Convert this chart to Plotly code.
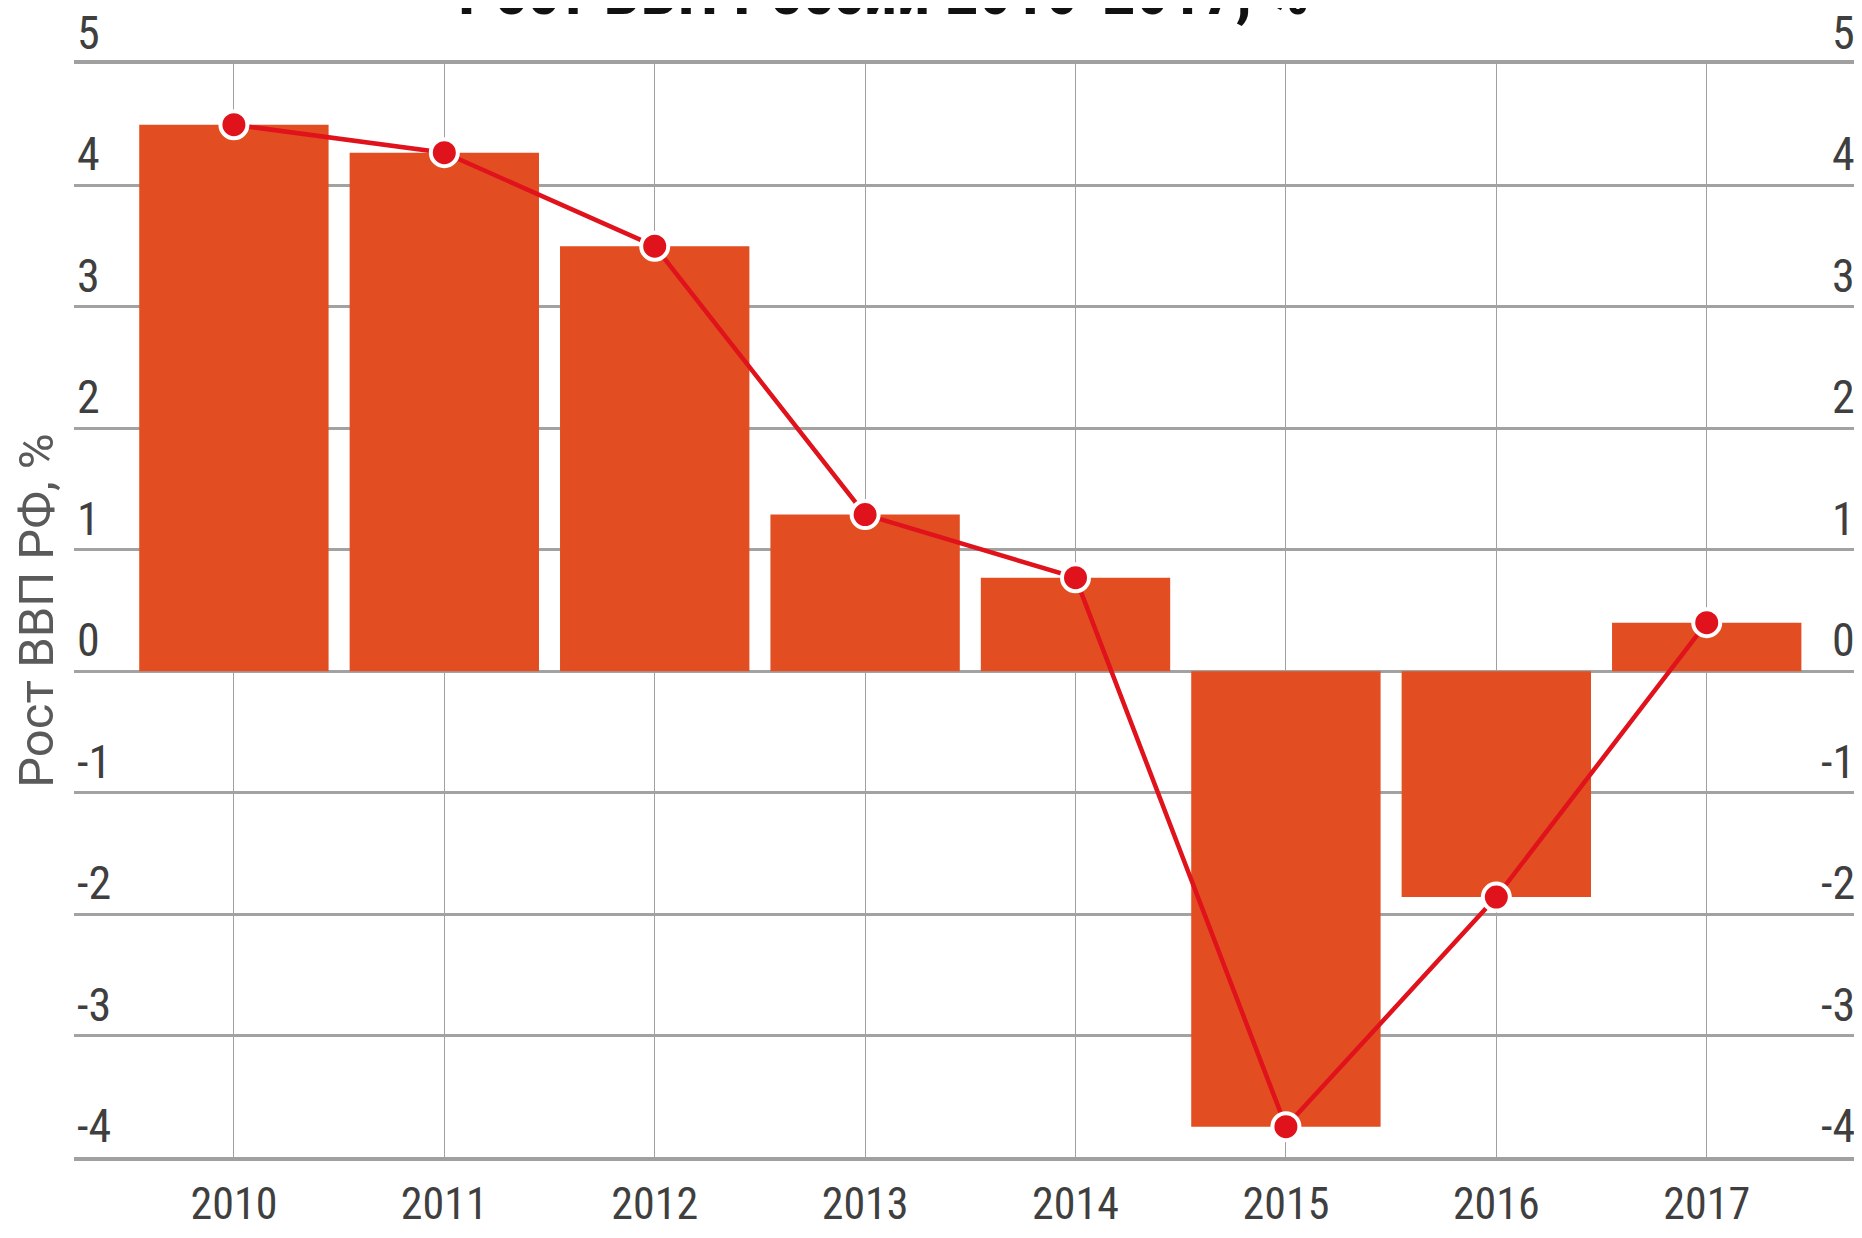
import plotly.graph_objects as go

# ---- data ----
years = ["2010", "2011", "2012", "2013", "2014", "2015", "2016", "2017"]
gdp_growth = [4.5, 4.27, 3.5, 1.29, 0.77, -3.75, -1.86, 0.4]
y_ticks = [-4, -3, -2, -1, 0, 1, 2, 3, 4, 5]
y_tick_labels = ["-4", "-3", "-2", "-1", "0", "1", "2", "3", "4", "5"]
title_text = "Рост ВВП России 2010-2017, %"
y_title = "Рост ВВП РФ, %"

BAR = "#e24e22"
LINE = "#e0121c"
GRID_H = "#a2a2a2"
GRID_V = "#a0a0a0"
TICK = "#3f3f3f"
NARROW = "Roboto Condensed, Liberation Sans Narrow, DejaVu Sans Condensed, sans-serif"

fig = go.Figure()
fig.add_bar(x=years, y=gdp_growth, width=0.9, marker=dict(color=BAR, line=dict(width=0)),
            showlegend=False, hoverinfo="skip")
fig.add_scatter(x=years, y=gdp_growth, mode="lines+markers",
                line=dict(color=LINE, width=4.5),
                marker=dict(size=27, color=LINE, line=dict(color="white", width=4)),
                showlegend=False)

annotations = [dict(text="<b>" + title_text + "</b>", xref="paper", yref="paper", x=0.455, y=1,
                    xanchor="center", yanchor="bottom", yshift=32, showarrow=False,
                    font=dict(family=NARROW, size=66, color="#111111"))]
for v, t in zip(y_ticks, y_tick_labels):
    annotations.append(dict(text=t, xref="paper", yref="y", x=0, y=v, xanchor="left", yanchor="bottom",
                            xshift=1, yshift=2, showarrow=False,
                            font=dict(family=NARROW, size=46, color=TICK)))
    annotations.append(dict(text=t, xref="paper", yref="y", x=1, y=v, xanchor="right", yanchor="bottom",
                            xshift=3, yshift=2, showarrow=False,
                            font=dict(family=NARROW, size=46, color=TICK)))

fig.update_layout(
    width=1846, height=1222,
    margin=dict(l=66, r=0, t=56, b=48),
    plot_bgcolor="white", paper_bgcolor="white",
    xaxis=dict(type="category", range=[-0.76, 7.70], showgrid=True, gridcolor=GRID_V, gridwidth=1.3,
               showline=True, mirror=True, linecolor="#a0a0a0", linewidth=3.5,
               ticks="outside", ticklen=5, tickcolor="rgba(0,0,0,0)",
               tickfont=dict(family=NARROW, size=44, color=TICK)),
    yaxis=dict(range=[-4, 5], tickvals=y_ticks, showgrid=True, showticklabels=False,
               gridcolor=GRID_H, gridwidth=2.5, zeroline=False, ticks="",
               title=dict(text=y_title, standoff=25,
                          font=dict(family="Roboto, Liberation Sans, Arial, sans-serif", size=49, color="#5a5a5a"))),
    annotations=annotations,
)

fig.write_html("out.html")
